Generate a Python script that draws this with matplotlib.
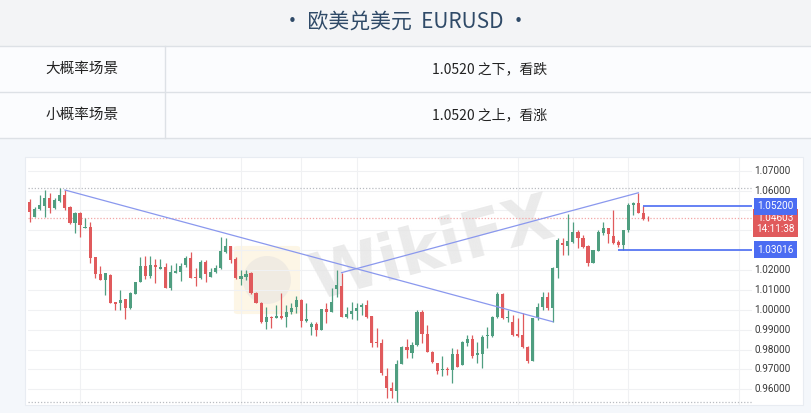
import matplotlib.pyplot as plt
import matplotlib.transforms as mtransforms
from matplotlib.patches import Rectangle, FancyBboxPatch, Ellipse

plt.rcParams['font.family'] = ['Noto Sans CJK SC', 'DejaVu Sans']

# daily EURUSD candles
opens = [1.0544, 1.0469, 1.0507, 1.0524, 1.0561, 1.0514, 1.0549, 1.0578, 1.0516, 1.0435,
         1.0486, 1.0413, 1.0418, 1.0267, 1.0180, 1.0150, 1.0175, 1.0038, 1.0033, 1.0053,
         1.0008, 1.0080, 1.0142, 1.0222, 1.0170, 1.0227, 1.0207, 1.0217, 1.0112, 1.0186,
         1.0192, 1.0224, 1.0259, 1.0165, 1.0159, 1.0242, 1.0167, 1.0190, 1.0209, 1.0293,
         1.0320, 1.0254, 1.0154, 1.0167, 1.0184, 1.0086, 1.0033, 0.9940, 0.9966, 0.9961,
         0.9971, 0.9966, 0.9988, 1.0013, 1.0050, 0.9944, 0.9915, 0.9927, 0.9899, 1.0003,
         0.9991, 1.0103, 1.0120, 0.9963, 0.9979, 0.9996, 1.0013, 1.0024, 0.9969, 0.9840,
         0.9832, 0.9667, 0.9608, 0.9593, 0.9729, 0.9815, 0.9782, 0.9823, 0.9988, 0.9879,
         0.9790, 0.9731, 0.9698, 0.9704, 0.9698, 0.9778, 0.9723, 0.9835, 0.9852, 0.9773,
         0.9778, 0.9869, 0.9869, 0.9963, 1.0078, 0.9959, 0.9940, 0.9879, 0.9874, 0.9815,
         0.9744, 0.9958, 1.0016, 1.0066, 1.0008, 1.0209, 1.0335, 1.0321, 1.0343, 1.0393,
         1.0360, 1.0323, 1.0237, 1.0298, 1.0388, 1.0410, 1.0372, 1.0343, 1.0326, 1.0402,
         1.0527, 1.0539, 1.0489, 1.0464]
highs = [1.0556, 1.0519, 1.0578, 1.0603, 1.0586, 1.0561, 1.0612, 1.0603, 1.0522, 1.0490,
         1.0490, 1.0461, 1.0443, 1.0267, 1.0221, 1.0187, 1.0179, 1.0040, 1.0100, 1.0055,
         1.0088, 1.0142, 1.0264, 1.0271, 1.0271, 1.0254, 1.0257, 1.0234, 1.0226, 1.0234,
         1.0234, 1.0271, 1.0293, 1.0209, 1.0251, 1.0251, 1.0209, 1.0226, 1.0365, 1.0360,
         1.0322, 1.0267, 1.0200, 1.0200, 1.0192, 1.0091, 1.0041, 1.0016, 0.9968, 1.0024,
         1.0086, 1.0024, 1.0035, 1.0070, 1.0052, 1.0033, 0.9940, 0.9940, 1.0005, 1.0033,
         1.0108, 1.0200, 1.0187, 1.0016, 1.0041, 1.0036, 1.0033, 1.0050, 0.9971, 0.9907,
         0.9852, 0.9706, 0.9637, 0.9746, 0.9817, 0.9852, 0.9840, 0.9999, 0.9999, 0.9924,
         0.9795, 0.9734, 0.9768, 0.9714, 0.9807, 0.9802, 0.9842, 0.9874, 0.9874, 0.9840,
         0.9874, 0.9915, 0.9968, 1.0091, 1.0086, 0.9999, 0.9974, 0.9958, 0.9983, 0.9817,
         0.9960, 1.0033, 1.0091, 1.0091, 1.0217, 1.0360, 1.0360, 1.0482, 1.0443, 1.0402,
         1.0377, 1.0326, 1.0303, 1.0402, 1.0443, 1.0412, 1.0502, 1.0351, 1.0404, 1.0536,
         1.0544, 1.0589, 1.0520, 1.0472]
lows = [1.0443, 1.0466, 1.0502, 1.0469, 1.0486, 1.0509, 1.0544, 1.0502, 1.0432, 1.0385,
        1.0368, 1.0410, 1.0237, 1.0159, 1.0150, 1.0075, 1.0033, 0.9999, 1.0000, 0.9953,
        1.0005, 1.0078, 1.0140, 1.0154, 1.0159, 1.0134, 1.0205, 1.0110, 1.0100, 1.0183,
        1.0147, 1.0217, 1.0160, 1.0120, 1.0157, 1.0142, 1.0164, 1.0187, 1.0207, 1.0286,
        1.0234, 1.0157, 1.0125, 1.0150, 1.0081, 1.0034, 0.9932, 0.9902, 0.9907, 0.9958,
        0.9953, 0.9915, 0.9979, 0.9983, 0.9915, 0.9940, 0.9874, 0.9869, 0.9897, 0.9932,
        0.9989, 1.0066, 0.9964, 0.9958, 0.9953, 0.9949, 0.9974, 0.9958, 0.9815, 0.9815,
        0.9672, 0.9555, 0.9555, 0.9538, 0.9725, 0.9758, 0.9756, 0.9820, 0.9835, 0.9788,
        0.9731, 0.9677, 0.9667, 0.9671, 0.9634, 0.9712, 0.9720, 0.9818, 0.9756, 0.9730,
        0.9706, 0.9807, 0.9865, 0.9960, 0.9956, 0.9940, 0.9869, 0.9865, 0.9807, 0.9731,
        0.9742, 0.9949, 0.9999, 0.9999, 0.9940, 1.0159, 1.0276, 1.0276, 1.0335, 1.0310,
        1.0310, 1.0221, 1.0235, 1.0296, 1.0377, 1.0338, 1.0331, 1.0318, 1.0302, 1.0393,
        1.0477, 1.0487, 1.0454, 1.0449]
closes = [1.0494, 1.0507, 1.0527, 1.0561, 1.0514, 1.0553, 1.0578, 1.0511, 1.0435, 1.0486,
          1.0427, 1.0417, 1.0259, 1.0180, 1.0150, 1.0184, 1.0036, 1.0029, 1.0050, 1.0008,
          1.0086, 1.0140, 1.0222, 1.0170, 1.0226, 1.0214, 1.0217, 1.0112, 1.0190, 1.0194,
          1.0222, 1.0259, 1.0162, 1.0160, 1.0242, 1.0180, 1.0190, 1.0209, 1.0298, 1.0320,
          1.0251, 1.0159, 1.0170, 1.0179, 1.0083, 1.0036, 0.9940, 0.9966, 0.9961, 0.9971,
          0.9961, 0.9991, 1.0011, 1.0050, 0.9944, 0.9953, 0.9927, 0.9899, 1.0003, 0.9991,
          1.0041, 1.0125, 0.9966, 0.9979, 0.9996, 1.0011, 1.0024, 0.9963, 0.9835, 0.9833,
          0.9684, 0.9605, 0.9593, 0.9729, 0.9815, 0.9800, 0.9823, 0.9988, 0.9879, 0.9790,
          0.9738, 0.9694, 0.9704, 0.9698, 0.9778, 0.9714, 0.9840, 0.9852, 0.9768, 0.9782,
          0.9865, 0.9874, 0.9966, 1.0078, 0.9958, 0.9966, 0.9874, 0.9869, 0.9815, 0.9744,
          0.9958, 1.0016, 1.0066, 1.0008, 1.0209, 1.0351, 1.0326, 1.0346, 1.0393, 1.0360,
          1.0318, 1.0237, 1.0301, 1.0393, 1.0410, 1.0382, 1.0338, 1.0326, 1.0402, 1.0527,
          1.0539, 1.0489, 1.0456, 1.04603]

price_ticks = [1.07, 1.06, 1.05, 1.04, 1.03, 1.02, 1.01, 1.00, 0.99, 0.98, 0.97, 0.96]
vgrid_idx = [10, 42, 54, 65, 97, 108, 119, 141]

# drawn trend lines (start index, start price, end index, end price)
trend_lines = [(7, 1.0603, 104, 0.9940), (62, 1.0187, 121, 1.0589)]
# horizontal levels (start index, price)
levels = [(122, 1.0520), (117, 1.03016)]
last_time = "14:11:38"

title = "• 欧美兑美元  EURUSD •"
rows = [("大概率场景", "1.0520 之下，看跌"), ("小概率场景", "1.0520 之上，看涨")]

GREEN = '#4f9e80'
RED = '#e05a5c'
BLUE = '#4b6cf2'
AXFONT = 'Roboto'

W, H = 811, 413
fig = plt.figure(figsize=(W / 100, H / 100), dpi=100)


def frect(x0, y0, w, h, **kw):
    # rectangle in figure pixels, measured from the top-left corner
    fig.patches.append(Rectangle((x0 / W, 1 - (y0 + h) / H), w / W, h / H,
                                 transform=fig.transFigure, **kw))


def fline(x0, y0, x1, y1, **kw):
    fig.add_artist(plt.Line2D([x0 / W, x1 / W], [1 - y0 / H, 1 - y1 / H],
                              transform=fig.transFigure, **kw))


# header and table
frect(0, 0, W, 46, fc='#f3f4f6', ec='none')
frect(0, 46, W, 92, fc='#fbfcfe', ec='none')
frect(0, 138, W, H - 138, fc='#f4f7fb', ec='none')
for yy in (46, 92, 138):
    fline(0, yy, W, yy, color='#dde1e6', lw=1)
fline(165, 46, 165, 138, color='#dde1e6', lw=1)

fig.text(0.5, 1 - 22 / H, title, ha='center', va='center', fontsize=15, color='#2f4a68')
for k, (a, b) in enumerate(rows):
    yc = 1 - (69 + 46 * k) / H
    fig.text(82 / W, yc, a, ha='center', va='center', fontsize=10.5, color='#222222')
    fig.text(490 / W, yc, b, ha='center', va='center', fontsize=10, color='#222222')

# chart panel
frect(25, 157, 778, 248, fc='white', ec='#e8ecf2', lw=0.8)

# watermark logo (under the candles)
fig.patches.append(FancyBboxPatch((238 / W, 1 - 312 / H), 58 / W, 64 / H,
                                  boxstyle='round,pad=0.005', transform=fig.transFigure,
                                  fc='#fcf1d6', ec='none', alpha=0.6))
fig.patches.append(Ellipse((267 / W, 1 - 280 / H), 48 / W, 48 / H,
                           transform=fig.transFigure, fc='#e6e3df', ec='none', alpha=0.55))

ax = fig.add_axes([28 / W, 1 - 405 / H, 724 / W, 247 / H])
ax.set_zorder(3)
ax.set_facecolor('none')
ax.set_xlim(-0.34, 143.6)
ax.set_ylim(0.9521, 1.0764)
ax.axis('off')

for t in price_ticks:
    ax.axhline(t, color='#f0f1f3', lw=0.8, zorder=0)
for v in vgrid_idx:
    ax.axvline(v, color='#f0f1f3', lw=0.8, zorder=0)

ax.text(80, 1.0301, 'WikiFX', fontsize=46, fontweight='bold', color='#e4e4e4',
        family='DejaVu Sans', rotation=15, ha='center', va='center', zorder=0.5, alpha=0.75)

# max / min / last price lines
ax.axhline(max(highs), color='#b9bcc1', lw=0.9, ls=(0, (1, 1.5)), zorder=1)
ax.axhline(min(lows), color='#b9bcc1', lw=0.9, ls=(0, (1, 1.5)), zorder=1)
ax.axhline(closes[-1], color='#f2a6a6', lw=0.9, ls=(0, (1, 1.5)), zorder=1)

# candles
for i in range(len(opens)):
    o, h, l, c = opens[i], highs[i], lows[i], closes[i]
    col = GREEN if c >= o else RED
    ax.vlines(i, l, h, color=col, lw=0.9, zorder=3)
    ax.bar(i, max(abs(c - o), 0.00018), bottom=min(o, c), width=0.62, color=col,
           lw=0, zorder=4)

for x0, y0, x1, y1 in trend_lines:
    ax.plot([x0, x1], [y0, y1], color='#8a98ee', lw=0.9, zorder=5)

xmax = ax.get_xlim()[1]
for idx, lvl in levels:
    ax.hlines(lvl, idx, xmax, color=BLUE, lw=1.2, zorder=5)

# price axis labels (the ones under the level boxes are not shown)
trans = mtransforms.blended_transform_factory(ax.transAxes, ax.transData)
boxed = [lvl for _, lvl in levels] + [closes[-1]]
for t in price_ticks:
    if any(abs(t - b) < 0.0065 for b in boxed):
        continue
    ax.text(1.0539, t, f'{t:.5f}', transform=trans, ha='right', va='center',
            fontsize=7.2, color='#3a3a3a', family=AXFONT, clip_on=False, zorder=6)

for idx, lvl in levels:
    ax.text(1.0325, lvl, f'{lvl:.5f}', transform=trans, ha='center', va='center',
            fontsize=7.2, color='white', family=AXFONT, clip_on=False, zorder=8,
            bbox=dict(boxstyle='square,pad=0.35', fc=BLUE, ec='none'))

ax.annotate(f'{closes[-1]:.5f}\n{last_time}', xy=(1.0325, closes[-1]), xycoords=trans,
            xytext=(0, -3.5), textcoords='offset points', ha='center', va='center',
            fontsize=7.2, color='white', family=AXFONT, linespacing=1.1,
            annotation_clip=False, zorder=7,
            bbox=dict(boxstyle='square,pad=0.35', fc=RED, ec='none'))

fig.savefig('out.png', dpi=100)
